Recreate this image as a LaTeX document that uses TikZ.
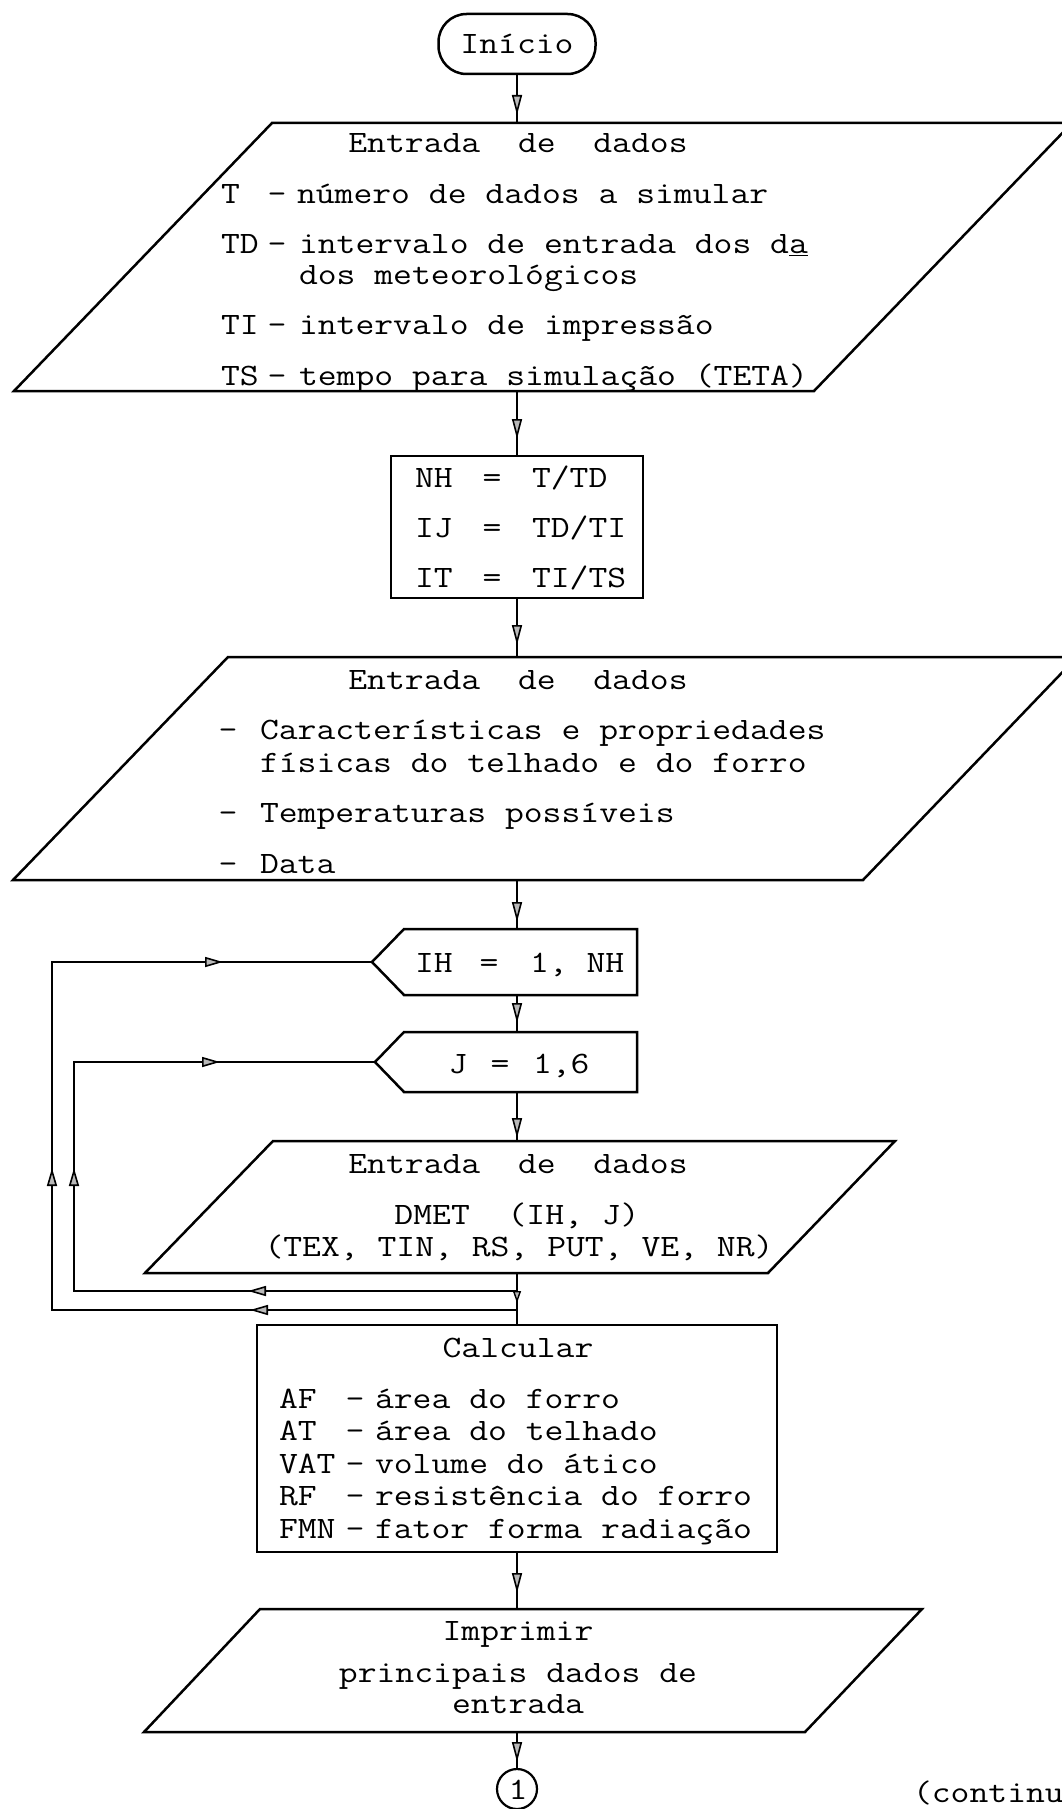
\documentclass[tikz,border=0pt]{standalone}
\usepackage{graphicx}
\usetikzlibrary{arrows.meta,decorations.markings}
\newcommand{\tw}[1]{\scalebox{1}[0.85]{#1}}
\tikzset{
  ln/.style={line width=1.25pt, draw=black},
  box/.style={draw=black, line width=1.25pt, inner sep=0pt, outer sep=0pt},
  txt/.style={inner sep=0pt, outer sep=0pt, font=\fontsize{18.3}{20}\selectfont\ttfamily, text=black},
  tl/.style={txt, anchor=base west},
  tc/.style={txt, anchor=base},
  dtip/.tip={Triangle[length=10pt,width=5pt,line width=0.8pt,fill=gray!55]},
  ltip/.tip={Triangle[length=9pt,width=5pt,line width=0.8pt,fill=gray!55]},
  stip/.tip={Triangle[length=6pt,width=4pt,line width=0.7pt,fill=gray!55]},
  arrowend/.style={postaction={decorate,decoration={markings,mark=at position #1 with {\arrow{dtip}}}}},
  smallarrow/.style={postaction={decorate,decoration={markings,mark=at position #1 with {\arrow{stip}}}}},
  loopmarks/.style n args={3}{postaction={decorate,decoration={markings,
     mark=at position #1 with {\arrow{ltip}},
     mark=at position #2 with {\arrow{ltip}},
     mark=at position #3 with {\arrow{ltip}}}}},
}
\begin{document}
\begin{tikzpicture}[x=0.5pt,y=-0.5pt,line join=miter]
\useasboundingbox (0,0) rectangle (1061,1809);

% ---------- Inicio
\node[box, rounded corners=14pt, minimum width=78.5pt, minimum height=30pt] (inicio) at (517,44) {};
\node[tc] (tinicio) at (517,54) {\tw{Início}};

% ---------- P1
\coordinate (p1t) at (517,123);
\coordinate (p1b) at (517,391);
\draw[ln] (272,123) -- (1072,123) -- (814,391) -- (14,391) -- cycle;
\node[tc] (a0) at (518,152) {\tw{Entrada~~de~~dados}};
\node[tl] (a1l) at (221,203) {\tw{T}};
\node[tc] (a1d) at (277,203) {\tw{-}};
\node[tl] (a1t) at (297,203) {\tw{número de dados a simular}};
\node[tl] (a2l) at (221,253) {\tw{TD}};
\node[tc] (a2d) at (277,253) {\tw{-}};
\node[tl] (a2t) at (299,253) {\tw{intervalo de entrada dos d\underline{a}}};
\node[tl] (a2u) at (299,284) {\tw{dos meteorológicos}};
\node[tl] (a3l) at (221,334) {\tw{TI}};
\node[tc] (a3d) at (277,334) {\tw{-}};
\node[tl] (a3t) at (299,334) {\tw{intervalo de impressão}};
\node[tl] (a4l) at (221,385) {\tw{TS}};
\node[tc] (a4d) at (277,385) {\tw{-}};
\node[tl] (a4t) at (299,385) {\tw{tempo para simulação (TETA)}};

% ---------- NH box
\node[box, minimum width=126pt, minimum height=71pt] (nh) at (517,527) {};
\node[tl] (b1l) at (415,487) {\tw{NH}};
\node[tc] (b1e) at (492,487) {\tw{=}};
\node[tl] (b1r) at (532,487) {\tw{T/TD}};
\node[tl] (b2l) at (415,537) {\tw{IJ}};
\node[tc] (b2e) at (492,537) {\tw{=}};
\node[tl] (b2r) at (532,537) {\tw{TD/TI}};
\node[tl] (b3l) at (415,587) {\tw{IT}};
\node[tc] (b3e) at (492,587) {\tw{=}};
\node[tl] (b3r) at (532,587) {\tw{TI/TS}};

% ---------- P2
\coordinate (p2t) at (517,657);
\coordinate (p2b) at (517,880);
\draw[ln] (228,657) -- (1077,657) -- (863,880) -- (13,880) -- cycle;
\node[tc] (c0) at (518,689) {\tw{Entrada~~de~~dados}};
\node[tc] (c1d) at (228,739) {\tw{-}};
\node[tl] (c1t) at (260,739) {\tw{Características e propriedades}};
\node[tl] (c1u) at (260,772) {\tw{físicas do telhado e do forro}};
\node[tc] (c2d) at (228,822) {\tw{-}};
\node[tl] (c2t) at (260,822) {\tw{Temperaturas possíveis}};
\node[tc] (c3d) at (228,873) {\tw{-}};
\node[tl] (c3t) at (260,873) {\tw{Data}};

% ---------- IH hexagon
\coordinate (iht) at (517,929);
\coordinate (ihb) at (517,995);
\coordinate (ihtip) at (372,962);
\draw[ln] (404,929) -- (637,929) -- (637,995) -- (404,995) -- (ihtip) -- cycle;
\node[tl] (d1) at (415,972) {\tw{IH}};
\node[tc] (d2) at (489,972) {\tw{=}};
\node[tl] (d3) at (530,972) {\tw{1, NH}};

% ---------- J hexagon
\coordinate (jt) at (517,1032);
\coordinate (jb) at (517,1092);
\coordinate (jtip) at (375,1062);
\draw[ln] (404,1032) -- (637,1032) -- (637,1092) -- (404,1092) -- (jtip) -- cycle;
\node[tc] (e1) at (458,1073) {\tw{J}};
\node[tc] (e2) at (500,1073) {\tw{=}};
\node[tl] (e3) at (533,1073) {\tw{1,6}};

% ---------- P3
\coordinate (p3t) at (517,1141);
\coordinate (p3b) at (517,1273);
\draw[ln] (273,1141) -- (895,1141) -- (768,1273) -- (145,1273) -- cycle;
\node[tc] (f0) at (518,1173) {\tw{Entrada~~de~~dados}};
\node[tc] (f1) at (517,1224) {\tw{DMET~~(IH, J)}};
\node[tc] (f2) at (519,1256) {\tw{(TEX, TIN, RS, PUT, VE, NR)}};

% ---------- Calcular box
\node[box, minimum width=260pt, minimum height=113.5pt] (calcbox) at (517,1438.5) {};
\node[tc] (g0) at (518,1357) {\tw{Calcular}};
\node[tl] (g1l) at (279,1408) {\tw{AF}};
\node[tc] (g1d) at (355,1408) {\tw{-}};
\node[tl] (g1t) at (375,1408) {\tw{área do forro}};
\node[tl] (g2l) at (279,1440.5) {\tw{AT}};
\node[tc] (g2d) at (355,1440.5) {\tw{-}};
\node[tl] (g2t) at (375,1440.5) {\tw{área do telhado}};
\node[tl] (g3l) at (279,1473) {\tw{VAT}};
\node[tc] (g3d) at (355,1473) {\tw{-}};
\node[tl] (g3t) at (375,1473) {\tw{volume do ático}};
\node[tl] (g4l) at (279,1505.5) {\tw{RF}};
\node[tc] (g4d) at (355,1505.5) {\tw{-}};
\node[tl] (g4t) at (375,1505.5) {\tw{resistência do forro}};
\node[tl] (g5l) at (279,1538) {\tw{FMN}};
\node[tc] (g5d) at (355,1538) {\tw{-}};
\node[tl] (g5t) at (375,1538) {\tw{fator forma radiação}};

% ---------- P4
\coordinate (p4t) at (517,1609);
\coordinate (p4b) at (517,1732);
\draw[ln] (260,1609) -- (922,1609) -- (805,1732) -- (144,1732) -- cycle;
\node[tc] (h0) at (518,1640) {\tw{Imprimir}};
\node[tc] (h1) at (518,1682) {\tw{principais dados de}};
\node[tc] (h2) at (518,1713) {\tw{entrada}};

% ---------- connector circle and note
\node[draw=black, line width=1.1pt, circle, minimum size=20pt, inner sep=0pt, outer sep=0pt] (conn) at (517,1789) {};
\node[tc] (conn1) at (518,1799) {\tw{1}};
\node[tl] (cont) at (913,1802) {\tw{(continu}};

% ---------- main connectors
\draw[ln, arrowend=-4pt] (inicio) -- (p1t);
\draw[ln, arrowend=-8.5pt] (p1b) -- (nh);
\draw[ln, arrowend=-6pt] (nh) -- (p2t);
\draw[ln, arrowend=-3.5pt] (p2b) -- (iht);
\draw[ln, arrowend=-4.5pt] (ihb) -- (jt);
\draw[ln, arrowend=-1.5pt] (jb) -- (p3t);
\draw[ln, smallarrow=15pt] (p3b) -- (calcbox);
\draw[ln, arrowend=-8pt] (calcbox) -- (p4t);
\draw[ln, arrowend=-3.5pt] (p4b) -- (conn);

% ---------- loops
\coordinate (li) at (517,1291);
\coordinate (ic1) at (74,1291);
\coordinate (ic2) at (74,1062);
\coordinate (lo) at (517,1310);
\coordinate (oc1) at (52,1310);
\coordinate (oc2) at (52,962);
\draw[ln, loopmarks={134.5pt}{283pt}{409pt}] (li) -- (ic1) -- (ic2) -- (jtip);
\draw[ln, loopmarks={133.5pt}{303.5pt}{492pt}] (lo) -- (oc1) -- (oc2) -- (ihtip);
\end{tikzpicture}
\end{document}
